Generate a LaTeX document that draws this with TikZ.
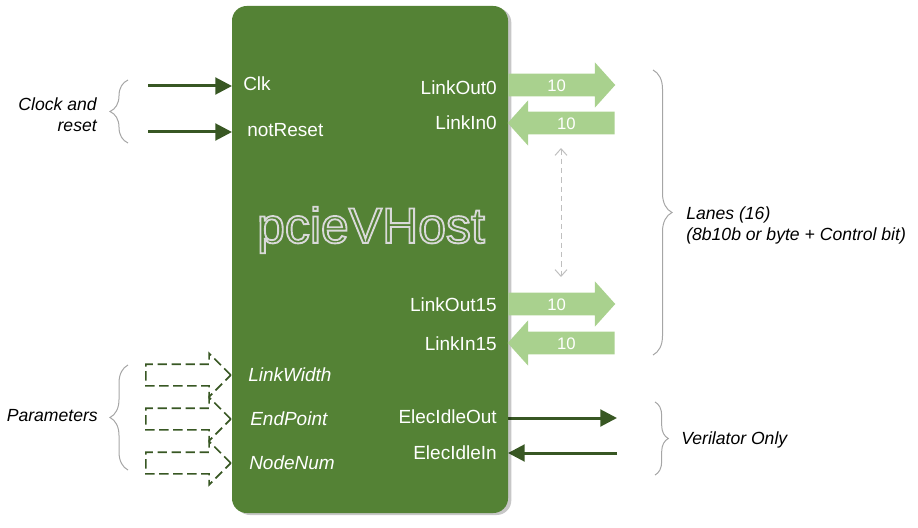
\documentclass[tikz,border=0pt]{standalone}
\usepackage{fontspec}
\setmainfont{Liberation Sans}
\usepackage{tikz}
\usetikzlibrary{positioning}
\usetikzlibrary{arrows.meta}
\usetikzlibrary{shapes.arrows}
\usetikzlibrary{shadows}
\usetikzlibrary{decorations.pathreplacing}
\definecolor{hostgreen}{RGB}{84,130,53}
\definecolor{wiregreen}{RGB}{56,87,35}
\definecolor{lanegreen}{RGB}{169,209,142}
\definecolor{bracegray}{RGB}{166,166,166}
\definecolor{hintgray}{RGB}{191,191,191}
\newcommand{\rimtext}[1]{\special{pdf:literal direct 2 Tr 1.4 w 0.851 G}#1\special{pdf:literal direct 0 Tr}}
\pgfdeclarelayer{nodelayer}
\pgfdeclarelayer{edgelayer}
\pgfsetlayers{edgelayer,nodelayer,main}
\tikzstyle{none}=[inner sep=0pt]
\tikzstyle{port}=[inner sep=0pt, text=white, font=\fontsize{14.25}{17}\selectfont]
\tikzstyle{note}=[inner sep=0pt, font=\fontsize{13.2}{15.75}\selectfont\itshape]
\tikzset{hostbox/.style={draw=none, fill=hostgreen, rounded corners=11pt,
minimum width=207pt, minimum height=380.25pt,
drop shadow={shadow xshift=2.5pt, shadow yshift=-1.5pt, fill=black, opacity=0.22}}}
\tikzset{wire/.style={draw=wiregreen, line width=2.25pt, -{Triangle[length=12.5pt,width=12.5pt]}}}
\tikzset{lane/.style={shape=single arrow, fill=lanegreen, draw=none,
single arrow head extend=8.6pt, single arrow tip angle=96, minimum height=80.25pt,
inner xsep=0pt, inner ysep=3.5pt, text height=9.5pt, text depth=0pt,
text=white, font=\fontsize{12.5}{14}\selectfont}}
\tikzset{param/.style={shape=single arrow, draw=wiregreen, line width=1.2pt,
dash pattern=on 7pt off 3.5pt, single arrow head extend=8.25pt, minimum height=63.75pt,
inner xsep=0pt, inner ysep=7.5pt, text height=0pt, text depth=0pt}}
\tikzset{hint/.style={draw=hintgray, line width=0.75pt, dash pattern=on 4pt off 3pt,
{Straight Barb[length=5pt,width=9pt]}-{Straight Barb[length=5pt,width=9pt]}}}
\tikzset{grp/.style={draw=bracegray, line width=0.75pt, decorate,
decoration={brace, amplitude=#1}}, grp/.default=13.5pt}

\begin{document}
\begin{tikzpicture}[x=0.75pt, y=-0.75pt]
	\useasboundingbox (0,0) rectangle (918,528);
	\begin{pgfonlayer}{nodelayer}
		\node [hostbox] (0) at (370,259.5) {};
		\node [none, text=hostgreen, font=\fontsize{37.5}{40}\selectfont] (1) at (371,230) {\rimtext{pcieVHost}};
		\node [port, anchor=base west] (2) at (243,91) {Clk};
		\node [port, anchor=base west] (3) at (247,137) {notReset};
		\node [port, anchor=base west, font=\fontsize{14.25}{17}\selectfont\itshape] (4) at (248,381) {LinkWidth};
		\node [port, anchor=base west, font=\fontsize{14.25}{17}\selectfont\itshape] (5) at (250,425) {EndPoint};
		\node [port, anchor=base west, font=\fontsize{14.25}{17}\selectfont\itshape] (6) at (249,469) {NodeNum};
		\node [port, anchor=base east] (7) at (497,94) {LinkOut0};
		\node [port, anchor=base east] (8) at (497,129) {LinkIn0};
		\node [port, anchor=base east] (9) at (497,311) {LinkOut15};
		\node [port, anchor=base east] (10) at (497,350) {LinkIn15};
		\node [port, anchor=base east] (11) at (497,423) {ElecIdleOut};
		\node [port, anchor=base east] (12) at (497,459) {ElecIdleIn};
		\node [lane, anchor=tail] (13) at (508,85) {10};
		\node [lane, shape border rotate=180, anchor=tail] (14) at (615,123) {10};
		\node [lane, anchor=tail] (15) at (508,304) {10};
		\node [lane, shape border rotate=180, anchor=tail] (16) at (615,343) {10};
		\node [param, anchor=tip] (17) at (232,375) {};
		\node [param, anchor=tip] (18) at (232,419) {};
		\node [param, anchor=tip] (19) at (232,463) {};
		\node [none] (20) at (148,86) {};
		\node [none] (21) at (232,86) {};
		\node [none] (22) at (148,132) {};
		\node [none] (23) at (232,132) {};
		\node [none] (24) at (508,418) {};
		\node [none] (25) at (617,418) {};
		\node [none] (26) at (617,453) {};
		\node [none] (27) at (508,453) {};
		\node [none] (28) at (561,148) {};
		\node [none] (29) at (561,277) {};
		\node [note, align=right, anchor=north east] (30) at (97,97) {Clock and\\reset};
		\node [note, anchor=base east] (31) at (98,421) {Parameters};
		\node [note, align=left, anchor=north west] (32) at (686,206) {Lanes (16)\\(8b10b or byte + Control bit)};
		\node [note, anchor=base west] (33) at (681,444) {Verilator Only};
	\end{pgfonlayer}
	\begin{pgfonlayer}{edgelayer}
		\draw [wire] (20.center) to (21.center);
		\draw [wire] (22.center) to (23.center);
		\draw [wire] (24.center) to (25.center);
		\draw [wire] (26.center) to (27.center);
		\draw [hint] (28.center) to (29.center);
		\draw [grp] (128,143) to (128,80);
		\draw [grp] (128,470) to (128,365);
		\draw [grp=14.25pt] (653,70) to (653,355);
		\draw [grp=10pt] (655,402) to (655,475);
	\end{pgfonlayer}
\end{tikzpicture}
\end{document}
